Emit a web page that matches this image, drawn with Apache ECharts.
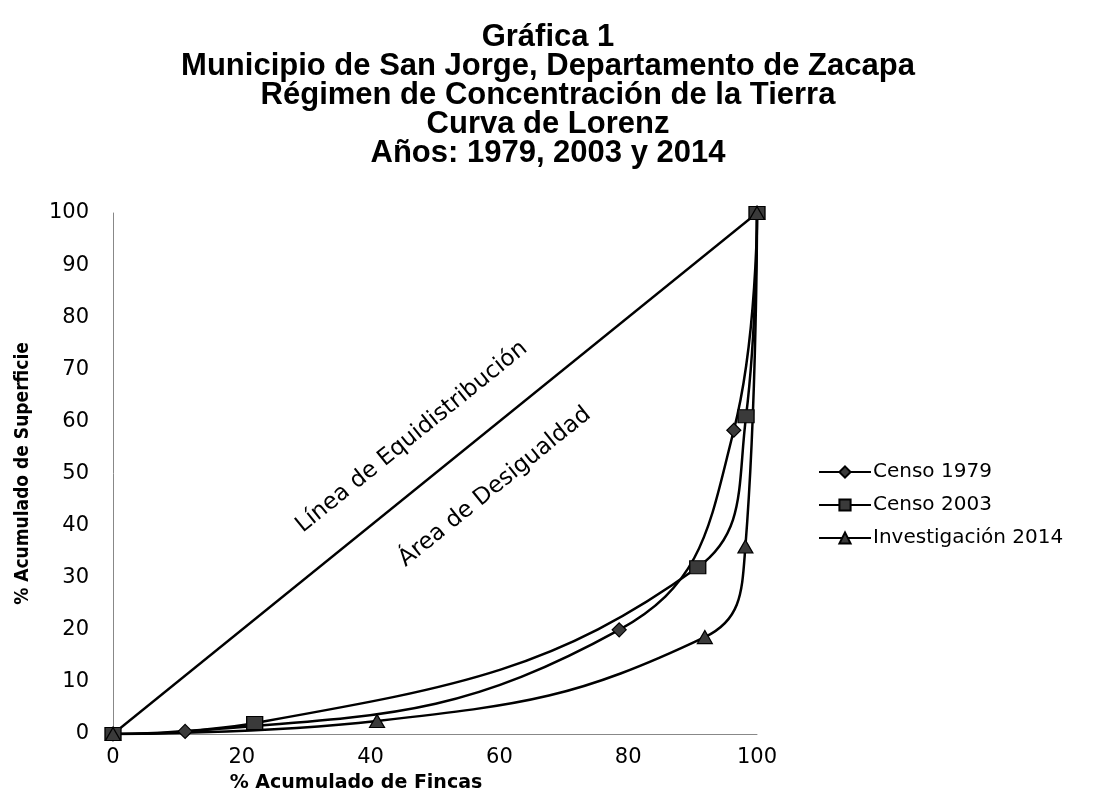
<!DOCTYPE html>
<html>
<head>
<meta charset="utf-8">
<script src="https://cdn.jsdelivr.net/npm/echarts@6/dist/echarts.min.js"></script>
<style>
html,body{margin:0;padding:0;background:#fff;}
#chart{width:1100px;height:795px;}
</style>
</head>
<body>
<div id="chart"></div>
<script>
// ---- data ----
var titleLines = ['Gráfica 1', 'Municipio de San Jorge, Departamento de Zacapa', 'Régimen de Concentración de la Tierra', 'Curva de Lorenz', 'Años: 1979, 2003 y 2014'];
var seriesNames = ['Censo 1979', 'Censo 2003', 'Investigación 2014'];
var fincas1979 = [0, 11.2, 78.6, 96.4, 100];
var superficie1979 = [0, 0.5, 20, 58.3, 100];
var fincas2003 = [0, 22, 90.8, 98.3, 100];
var superficie2003 = [0, 2.1, 32, 61, 100];
var fincas2014 = [0, 41, 91.9, 98.2, 100];
var superficie2014 = [0, 2.5, 18.6, 36, 100];
var equiX = [0, 100];
var equiY = [0, 100];
var xTicks = [0, 20, 40, 60, 80, 100];
var yTicks = [0, 10, 20, 30, 40, 50, 60, 70, 80, 90, 100];
var xAxisName = '% Acumulado de Fincas';
var yAxisName = '% Acumulado de Superficie';
var labelLinea = 'Línea de Equidistribución';
var labelArea = 'Área de Desigualdad';

function pairs(xs, ys) { return xs.map(function (x, i) { return [x, ys[i]]; }); }

var chart = echarts.init(document.getElementById('chart'), null, {renderer: 'canvas'});
var baseFont = 'DejaVu Sans';
var markerStyle = {color: '#3a3a3a', borderColor: '#000', borderWidth: 1.2};

var option = {
  backgroundColor: '#ffffff',
  animation: false,
  title: {
    text: titleLines.join('\n'),
    left: 543, top: 18, textAlign: 'center',
    textStyle: {fontFamily: 'Liberation Sans', fontWeight: 'bold', fontSize: 31, lineHeight: 29, color: '#000'}
  },
  legend: {
    orient: 'vertical', left: 813, top: 457,
    itemWidth: 52, itemHeight: 14, itemGap: 13,
    data: seriesNames,
    textStyle: {fontFamily: baseFont, fontSize: 20, color: '#000', padding: [0, 0, 0, -3]}
  },
  grid: {left: 113, right: 343, top: 213, bottom: 61, containLabel: false, outerBoundsMode: 'none'},
  xAxis: {
    type: 'value', min: 0, max: 100, interval: 20,
    axisLine: {show: true, lineStyle: {color: '#888', width: 1}},
    axisTick: {show: false},
    splitLine: {show: false},
    axisLabel: {fontFamily: baseFont, fontSize: 21, color: '#000', margin: 13,
      formatter: function (v) { return xTicks.indexOf(v) >= 0 ? String(v) : ''; }}
  },
  yAxis: {
    type: 'value', min: 0, max: 100, interval: 10,
    name: yAxisName, nameLocation: 'middle', nameGap: 80, nameRotate: 90,
    nameTextStyle: {fontFamily: 'Liberation Sans Narrow, DejaVu Sans Condensed', fontWeight: 'bold', fontSize: 19, color: '#000'},
    axisLine: {show: true, lineStyle: {color: '#888', width: 1}},
    axisTick: {show: false},
    splitLine: {show: false},
    axisLabel: {fontFamily: baseFont, fontSize: 21, color: '#000', margin: 24,
      formatter: function (v) { return yTicks.indexOf(v) >= 0 ? String(v) : ''; }}
  },
  series: [
    {
      name: 'Equidistribución', type: 'line', data: pairs(equiX, equiY),
      showSymbol: false, symbol: 'none', lineStyle: {color: '#000', width: 2.3}, silent: true, z: 1
    },
    {
      name: seriesNames[0], type: 'line', data: pairs(fincas1979, superficie1979), smooth: 0.45,
      symbol: 'diamond', symbolSize: [14, 14], itemStyle: markerStyle,
      lineStyle: {color: '#000', width: 2.5}, z: 3
    },
    {
      name: seriesNames[1], type: 'line', data: pairs(fincas2003, superficie2003), smooth: 0.45,
      symbol: 'rect', symbolSize: [16, 13], itemStyle: markerStyle,
      lineStyle: {color: '#000', width: 2.5}, z: 3
    },
    {
      name: seriesNames[2], type: 'line', data: pairs(fincas2014, superficie2014), smooth: 0.45,
      symbol: 'triangle', symbolSize: [15, 13], itemStyle: markerStyle,
      lineStyle: {color: '#000', width: 2.5}, z: 3
    }
  ]
};
chart.setOption(option);

var pLinea = chart.convertToPixel({gridIndex: 0}, [46.4, 57.0]);
var pArea = chart.convertToPixel({gridIndex: 0}, [59.3, 47.4]);
var p0 = chart.convertToPixel({gridIndex: 0}, [0, 0]);
var p1 = chart.convertToPixel({gridIndex: 0}, [100, 100]);
var ang = Math.atan2(p0[1] - p1[1], p1[0] - p0[0]);

chart.setOption({
  graphic: [
    {type: 'text', x: pLinea[0], y: pLinea[1], rotation: ang,
      style: {text: labelLinea, fontFamily: baseFont, fontSize: 23, fill: '#000', align: 'center', verticalAlign: 'middle'}},
    {type: 'text', x: pArea[0], y: pArea[1], rotation: ang,
      style: {text: labelArea, fontFamily: baseFont, fontSize: 23, fill: '#000', align: 'center', verticalAlign: 'middle'}},
    {type: 'text', x: 356, y: 783,
      style: {text: xAxisName, fontFamily: baseFont, fontWeight: 'bold', fontSize: 19, fill: '#000', align: 'center', verticalAlign: 'middle'}}
  ]
});
</script>
</body>
</html>
